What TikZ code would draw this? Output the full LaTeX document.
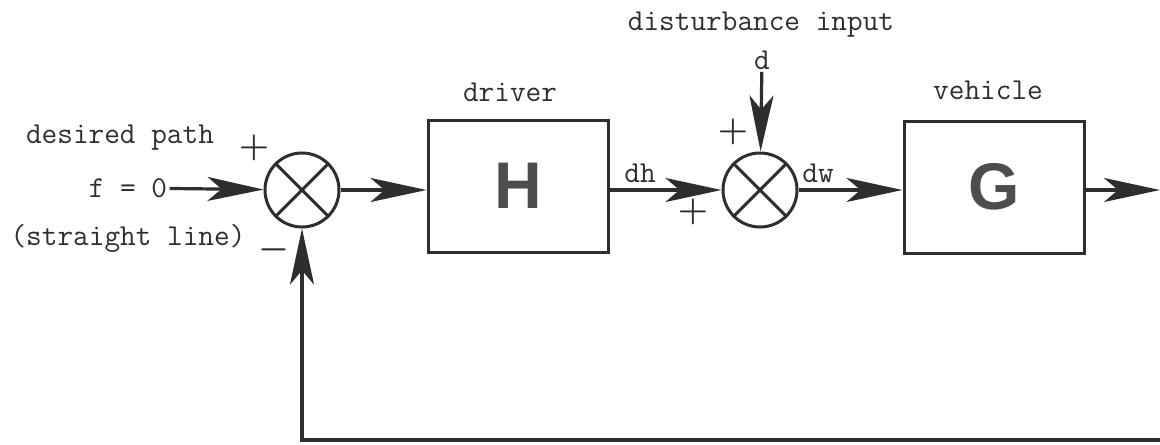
\documentclass[tikz,border=0pt]{standalone}
\usepackage{fontspec}
\newfontfamily\blockfont{Liberation Sans}
\usetikzlibrary{
  arrows.meta,
  positioning,
  calc
}
\definecolor{bdInk}{HTML}{2E2E2E}
\tikzset{
  bdblock/.style={
    draw=bdInk, line width=1.5pt, minimum width=90pt, minimum height=66pt,
    font=\blockfont\fontsize{33}{36}\selectfont\bfseries, text=bdInk!85
  },
  bdsum/.style={draw=bdInk, circle, line width=1.5pt, minimum size=37pt, inner sep=0pt},
  bdflow/.style={-{Stealth[length=28pt, width=12pt, inset=7pt]}, line width=1.6pt, bdInk},
  bdline/.style={line width=1.5pt, bdInk},
  bdtag/.style={font=\ttfamily\fontsize{15.2}{18}\selectfont, text=bdInk, inner sep=1pt},
  bdsign/.style={font=\fontsize{19}{19}\selectfont\boldmath, text=bdInk, inner sep=0pt}
}
\begin{document}
\begin{tikzpicture}[x=0.5pt, y=-0.5pt]
  \useasboundingbox (0,0) rectangle (1160,444);
  % loop elements
  \node[bdsum] (s1) at (302,190) {};
  \node[bdblock] (H) at (518,186) {H};
  \node[bdsum] (s2) at (760,190) {};
  \node[bdblock] (G) at (994,187) {G};
  \coordinate (out) at (1160,190);
  \coordinate (fb) at (1160,440);
  \foreach \s in {s1, s2}{
    \draw[bdline] (\s.north west) -- (\s.south east) (\s.north east) -- (\s.south west);
  }
  % texts
  \node[bdtag] (fzero) at (128,188) {f = 0};
  \node[bdtag] (dpath) at (120,138) {desired path};
  \node[bdtag] (sline) at (128,238) {(straight line)};
  \node[bdtag] (drv) at (510,92) {driver};
  \node[bdtag] (veh) at (988,90) {vehicle};
  \node[bdtag] (dh) at (640,173) {dh};
  \node[bdtag] (dw) at (818,173) {dw};
  \node[bdtag] (din) at (762,60) {d};
  \node[bdtag] (dist) at (761,25) {disturbance input};
  \node[bdsign] (p1) at (254,148) {$+$};
  \node[bdsign] (m1) at (274,250) {$-$};
  \node[bdsign] (p2) at (693,212) {$+$};
  \node[bdsign] (p3) at (733,132) {$+$};
  % signals
  \draw[bdflow] (fzero) -- (s1);
  \draw[bdflow] (s1) -- (s1 -| H.west);
  \draw[bdflow] (H.east |- s2) -- (s2);
  \draw[bdflow] (din) -- (s2);
  \draw[bdflow] (s2) -- (s2 -| G.west);
  \draw[bdflow] (G.east |- out) -- (out);
  \draw[bdflow] (fb) -- (fb -| s1) -- (s1);
\end{tikzpicture}
\end{document}
